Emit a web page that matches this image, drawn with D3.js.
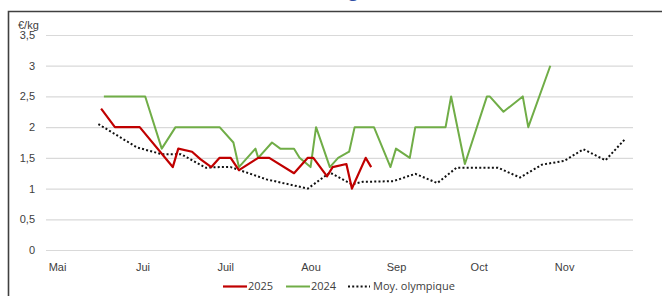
<!DOCTYPE html>
<html>
<head>
<meta charset="utf-8">
<script src="https://cdn.jsdelivr.net/npm/d3@7"></script>
<style>
  body { margin: 0; background: #fff; }
  svg { display: block; font-family: "Open Sans", sans-serif; }
</style>
</head>
<body>
<svg id="chart" width="662" height="296"></svg>
<script>
const width = 662;
const height = 296;
const marginTop = 35;
const marginRight = 29;
const marginBottom = 46;
const marginLeft = 46;

// axis labels
const months = ["Mai", "Jui", "Juil", "Aou", "Sep", "Oct", "Nov"];
const yTicks = [0, 0.5, 1, 1.5, 2, 2.5, 3, 3.5];

// 2025 quotations
const dates2025 = ["05-17", "05-22", "05-31", "06-12", "06-14", "06-19", "06-22", "06-26", "06-29", "07-03", "07-06",
  "07-13", "07-17", "07-26", "07-31", "08-02", "08-07", "08-09", "08-14", "08-16", "08-21", "08-23"];
const values2025 = [2.3, 2.0, 2.0, 1.35, 1.65, 1.6, 1.48, 1.35, 1.5, 1.5, 1.3,
  1.5, 1.5, 1.25, 1.5, 1.5, 1.2, 1.35, 1.4, 1.0, 1.5, 1.35];

// 2024 quotations
const dates2024 = ["05-18", "06-02", "06-08", "06-13", "06-29", "07-04", "07-06", "07-12", "07-13", "07-18", "07-21",
  "07-26", "07-28", "08-01", "08-03", "08-08", "08-11", "08-15", "08-17", "08-24", "08-30", "09-01",
  "09-06", "09-08", "09-19", "09-21", "09-26", "10-04", "10-05", "10-10", "10-17", "10-19", "10-27"];
const values2024 = [2.5, 2.5, 1.65, 2.0, 2.0, 1.75, 1.35, 1.65, 1.5, 1.75, 1.65,
  1.65, 1.5, 1.35, 2.0, 1.35, 1.5, 1.6, 2.0, 2.0, 1.35, 1.65,
  1.5, 2.0, 2.0, 2.5, 1.4, 2.5, 2.5, 2.25, 2.5, 2.0, 3.0];

// olympic average
const datesMoy = ["05-16", "05-30", "06-08", "06-15", "06-24", "06-29", "07-03", "07-16", "07-31", "08-08", "08-16",
  "08-20", "08-31", "09-08", "09-16", "09-23", "10-08", "10-16", "10-24", "11-01", "11-08", "11-16", "11-23"];
const valuesMoy = [2.05, 1.67, 1.56, 1.56, 1.34, 1.35, 1.35, 1.15, 1.0, 1.26, 1.07,
  1.11, 1.12, 1.24, 1.09, 1.34, 1.34, 1.18, 1.39, 1.45, 1.64, 1.46, 1.8];

const parse = (s) => new Date(Date.UTC(2025, +s.slice(0, 2) - 1, +s.slice(3)));

const series = [
  { name: "2025", dates: dates2025, values: values2025, color: "#c00000", width: 2.2, dash: null },
  { name: "2024", dates: dates2024, values: values2024, color: "#70ad47", width: 2, dash: null },
  { name: "Moy. olympique", dates: datesMoy, values: valuesMoy, color: "#111", width: 2, dash: "2,2.2" }
];

const svg = d3.select("#chart");

// frame of the slide box + cut title above it
svg.append("path")
  .attr("d", `M8.5,${height}V11.5H${width}`)
  .attr("fill", "none")
  .attr("stroke", "#404040")
  .attr("stroke-width", 1.6);

svg.append("text")
  .attr("x", 364)
  .attr("y", -3.5)
  .attr("text-anchor", "end")
  .attr("fill", "#2f4ea3")
  .attr("font-size", 17)
  .attr("font-weight", "bold")
  .text("Cotation (€/kg)");

const x = d3.scaleUtc()
  .domain([parse("04-27"), parse("11-26")])
  .range([marginLeft, width - marginRight]);

const y = d3.scaleLinear()
  .domain([0, 3.5])
  .range([height - marginBottom, marginTop]);

// y axis with gridlines
svg.append("g")
  .attr("transform", `translate(${marginLeft},0)`)
  .call(d3.axisLeft(y)
    .tickValues(yTicks)
    .tickSize(-(width - marginLeft - marginRight))
    .tickPadding(11)
    .tickFormat((d) => String(d).replace(".", ",")))
  .call((g) => g.select(".domain").remove())
  .call((g) => g.selectAll(".tick line").attr("stroke", "#d9d9d9").attr("stroke-width", 1.2))
  .call((g) => g.selectAll(".tick text").attr("fill", "#404040").attr("font-size", 11))
  .call((g) => g.append("text")
    .attr("x", 18 - marginLeft)
    .attr("y", 28.5)
    .attr("fill", "#404040")
    .attr("font-size", 11)
    .attr("text-anchor", "start")
    .text("€/kg"));

// x axis, month labels only
svg.append("g")
  .attr("transform", `translate(0,${height - marginBottom})`)
  .call(d3.axisBottom(x)
    .tickValues(d3.utcMonth.range(parse("05-01"), parse("12-01")))
    .tickSize(0)
    .tickPadding(13)
    .tickFormat((d, i) => months[i]))
  .call((g) => g.select(".domain").remove())
  .call((g) => g.selectAll(".tick text").attr("fill", "#404040").attr("font-size", 11));

const line = d3.line()
  .x((d) => x(d.date))
  .y((d) => y(d.value));

// draw average first, then 2024, then 2025 on top
[series[2], series[1], series[0]].forEach((s) => {
  const pts = s.dates.map((d, i) => ({ date: parse(d), value: s.values[i] }));
  svg.append("path")
    .datum(pts)
    .attr("fill", "none")
    .attr("stroke", s.color)
    .attr("stroke-width", s.width)
    .attr("stroke-linejoin", "round")
    .attr("stroke-dasharray", s.dash)
    .attr("d", line);
});

// legend
const legendX = [223, 286, 348];
const legend = svg.append("g")
  .attr("transform", "translate(0,286.5)")
  .selectAll("g")
  .data(series)
  .join("g")
  .attr("transform", (d, i) => `translate(${legendX[i]},0)`);

legend.append("line")
  .attr("x1", 0)
  .attr("x2", (d, i) => (i === 2 ? 22 : 24))
  .attr("stroke", (d) => d.color)
  .attr("stroke-width", (d) => d.width)
  .attr("stroke-dasharray", (d) => d.dash);

legend.append("text")
  .attr("x", 25)
  .attr("dy", "0.35em")
  .attr("fill", "#404040")
  .attr("font-size", 11)
  .text((d) => d.name);
</script>
</body>
</html>
